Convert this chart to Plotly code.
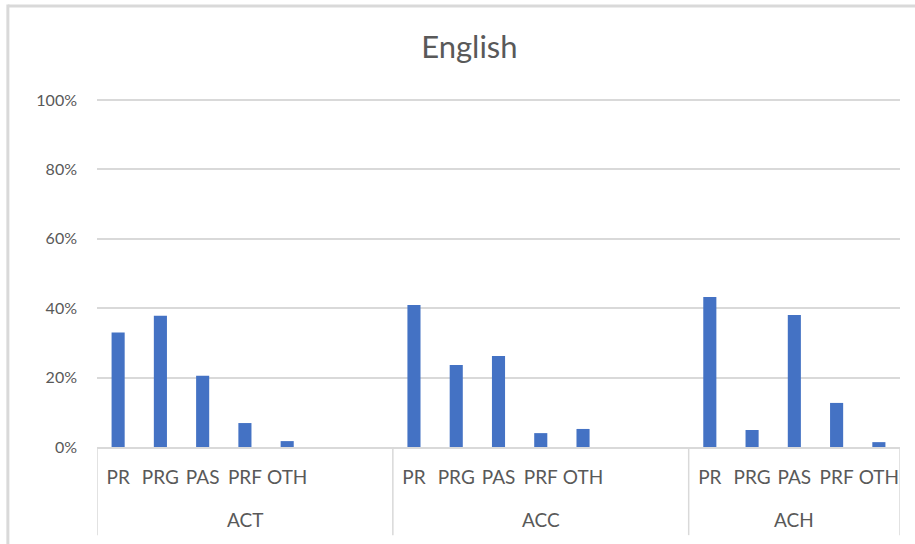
import plotly.graph_objects as go

# chart data
groups = ["ACT", "ACC", "ACH"]
sub_labels = {
    "ACT": ["PR", "PRG", "PAS", "PRF", "OTH", "", ""],
    "ACC": ["PR", "PRG", "PAS", "PRF", "OTH", "", ""],
    "ACH": ["PR", "PRG", "PAS", "PRF", "OTH"],
}
shares = {
    "ACT": [0.33, 0.378, 0.205, 0.069, 0.017, None, None],
    "ACC": [0.409, 0.236, 0.262, 0.040, 0.052, None, None],
    "ACH": [0.432, 0.049, 0.380, 0.127, 0.014],
}

x_pos, tick_text, y_vals = [], [], []
bounds = [-0.5]
for g in groups:
    start = len(x_pos)
    x_pos += list(range(start, start + len(sub_labels[g])))
    tick_text += sub_labels[g]
    y_vals += shares[g]
    bounds.append(len(x_pos) - 0.5)

grey = "#595959"
grid = "#d9d9d9"
font = "Lato"

fig = go.Figure(go.Bar(x=x_pos, y=y_vals,
                       marker_color="#4472C4",
                       marker_line_width=0,
                       width=0.31))

shapes = []
# group dividers below the axis, Excel style
for b in bounds:
    shapes.append(dict(type="line", xref="x", yref="paper", x0=b, x1=b, y0=0, y1=-0.249,
                       line=dict(color=grid, width=1.5)))
# chart border (only top and left are inside the picture)
shapes.append(dict(type="line", xref="paper", yref="paper", x0=-0.111, x1=1.03, y0=1.246, y1=1.246,
                   line=dict(color=grid, width=3)))
shapes.append(dict(type="line", xref="paper", yref="paper", x0=-0.111, x1=-0.111, y0=1.25, y1=-0.3,
                   line=dict(color=grid, width=3)))

annotations = []
for i, g in enumerate(groups):
    annotations.append(dict(x=(bounds[i] + bounds[i + 1]) / 2, y=-0.206, xref="x", yref="paper",
                            text=g, showarrow=False, yanchor="middle",
                            font=dict(size=19, color=grey, family=font)))

fig.update_layout(
    title={'text': "English", 'x': 0.513, 'xanchor': 'center', 'y': 0.914, 'yanchor': 'middle',
           'font': {'size': 31, 'color': grey, 'family': font}},
    width=915, height=544,
    plot_bgcolor="white", paper_bgcolor="white",
    font={'family': font, 'size': 16, 'color': grey},
    showlegend=False,
    margin={'l': 97, 'r': 15, 't': 93, 'b': 97},
    shapes=shapes,
    annotations=annotations,
)

fig.update_yaxes(range=[0, 1.02], tickvals=[0, 0.2, 0.4, 0.6, 0.8, 1.0], tickformat=".0%",
                 showgrid=True, gridcolor=grid, gridwidth=1.5,
                 zeroline=False, showline=False, ticks="", ticklabelstandoff=19,
                 automargin=False, tickfont=dict(size=16))

fig.update_xaxes(range=[bounds[0], bounds[-1]], tickvals=x_pos, ticktext=tick_text,
                 showline=True, linecolor=grid, linewidth=1.5,
                 ticks="", showgrid=False, zeroline=False, ticklabelstandoff=12,
                 automargin=False, tickfont=dict(size=19))

# drop the page's default body margin so the chart sits at the window's corner
fig.write_html("out.html", config={'displayModeBar': False},
               post_script="document.body.style.margin='0px';")
